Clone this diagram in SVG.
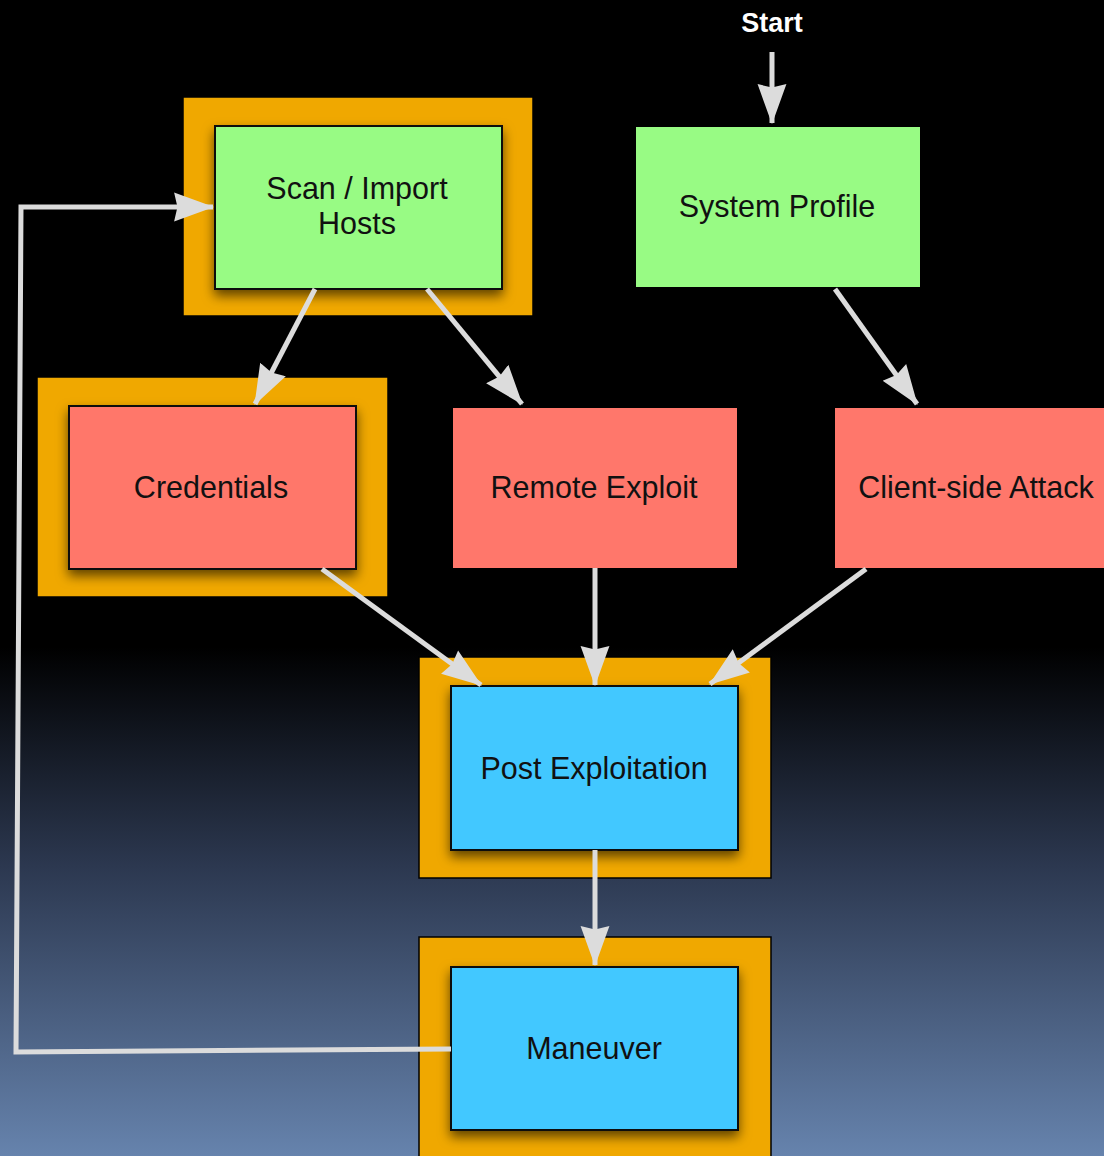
<svg xmlns="http://www.w3.org/2000/svg" width="1104" height="1156" viewBox="0 0 1104 1156">
  <defs>
    <linearGradient id="bg" x1="0" y1="0" x2="0" y2="1">
      <stop offset="0" stop-color="#000000"/>
      <stop offset="0.56" stop-color="#000000"/>
      <stop offset="0.75" stop-color="#2c3850"/>
      <stop offset="1" stop-color="#6683ad"/>
    </linearGradient>
    <filter id="shadow" x="-20%" y="-20%" width="140%" height="150%">
      <feDropShadow dx="0" dy="6" stdDeviation="6" flood-color="#000" flood-opacity="0.6"/>
    </filter>
    <marker id="arrow" markerUnits="userSpaceOnUse" markerWidth="40" markerHeight="40" viewBox="0 0 36 28" refX="35" refY="14" orient="auto">
      <path d="M0,1 L36,14 L0,27 L3,14 Z" fill="#dcdcdc"/>
    </marker>
    <style>
      .frame { fill: #f0a800; stroke: #000; stroke-width: 1.5; }
      .green { fill: #98fb84; }
      .red { fill: #ff776b; }
      .blue { fill: #42c8ff; }
      .inner { stroke: #111; stroke-width: 2; filter: url(#shadow); }
      .label { font-family: "Liberation Sans", Arial, sans-serif; font-size: 30.5px; fill: #111; text-anchor: middle; }
      .edge { fill: none; stroke: #dcdcdc; stroke-width: 5; marker-end: url(#arrow); }
    </style>
  </defs>

  <rect width="1104" height="1156" fill="url(#bg)"/>

  <text x="772" y="32" font-family="Liberation Sans, Arial, sans-serif" font-size="27" font-weight="bold" fill="#ffffff" text-anchor="middle">Start</text>

  <g id="scan-import-hosts">
    <rect class="frame" x="183" y="97" width="350" height="219"/>
    <rect class="green inner" x="215" y="126" width="287" height="163"/>
    <text class="label" x="357" y="199">Scan / Import</text>
    <text class="label" x="357" y="234">Hosts</text>
  </g>

  <g id="system-profile">
    <rect class="green" x="636" y="127" width="284" height="160"/>
    <text class="label" x="777" y="217">System Profile</text>
  </g>

  <g id="credentials">
    <rect class="frame" x="37" y="377" width="351" height="220"/>
    <rect class="red inner" x="69" y="406" width="287" height="163"/>
    <text class="label" x="211" y="498">Credentials</text>
  </g>

  <g id="remote-exploit">
    <rect class="red" x="453" y="408" width="284" height="160"/>
    <text class="label" x="594" y="498">Remote Exploit</text>
  </g>

  <g id="client-side-attack">
    <rect class="red" x="835" y="408" width="280" height="160"/>
    <text class="label" x="976" y="498">Client-side Attack</text>
  </g>

  <g id="post-exploitation">
    <rect class="frame" x="419" y="657" width="352" height="221"/>
    <rect class="blue inner" x="451" y="686" width="287" height="164"/>
    <text class="label" x="594" y="779">Post Exploitation</text>
  </g>

  <g id="maneuver">
    <rect class="frame" x="419" y="937" width="352" height="230"/>
    <rect class="blue inner" x="451" y="967" width="287" height="163"/>
    <text class="label" x="594" y="1059">Maneuver</text>
  </g>

  <g id="connectors">
    <line class="edge" x1="772" y1="52" x2="772" y2="123"/>
    <line class="edge" x1="315" y1="289" x2="255" y2="404"/>
    <line class="edge" x1="427" y1="289" x2="522" y2="404"/>
    <line class="edge" x1="835" y1="289" x2="917" y2="404"/>
    <line class="edge" x1="322" y1="569" x2="481" y2="685"/>
    <line class="edge" x1="595" y1="568" x2="595" y2="685"/>
    <line class="edge" x1="866" y1="569" x2="710" y2="684"/>
    <line class="edge" x1="595" y1="850" x2="595" y2="965"/>
    <path class="edge" d="M451,1049 L16,1052 L21,207 L213,207"/>
  </g>
</svg>
